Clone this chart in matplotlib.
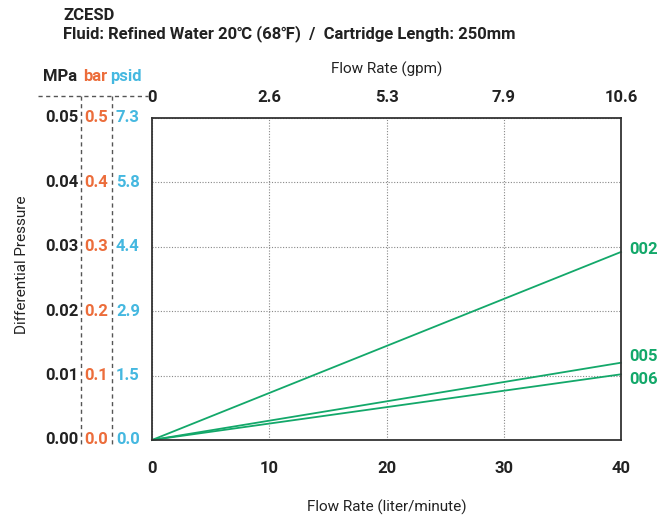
import matplotlib
matplotlib.use('Agg')
import matplotlib.pyplot as plt

plt.rcParams['font.family'] = ['Roboto', 'DejaVu Sans']

# flow (l/min) vs differential pressure (MPa)
flow = [0, 40]
dp_002 = [0.0, 0.0292]
dp_005 = [0.0, 0.0120]
dp_006 = [0.0, 0.0102]
series = [("002", dp_002, 0.0296), ("005", dp_005, 0.0130), ("006", dp_006, 0.0094)]

x_ticks = [0, 10, 20, 30, 40]
gpm_labels = ["0", "2.6", "5.3", "7.9", "10.6"]
mpa_ticks = [0.0, 0.01, 0.02, 0.03, 0.04, 0.05]
mpa_labels = ["0.00", "0.01", "0.02", "0.03", "0.04", "0.05"]
bar_labels = ["0.0", "0.1", "0.2", "0.3", "0.4", "0.5"]
psid_labels = ["0.0", "1.5", "2.9", "4.4", "5.8", "7.3"]

green = '#13a86a'
orange = '#ec6d3b'
blue = '#45b8e0'
dark = '#222222'
wt = 'bold'

fig = plt.figure(figsize=(6.72, 5.15), dpi=100)
ax = fig.add_axes([152/672, 1-440/515, 469/672, 322/515])

for name, vals, ylab in series:
    ax.plot(flow, vals, color=green, lw=1.3, clip_on=False)
    ax.text(40.7, ylab, name, color=green, fontsize=12, fontweight=wt, va='center', ha='left')

ax.set_xlim(0, 40)
ax.set_ylim(0, 0.05)
ax.set_xticks(x_ticks)
ax.set_xticklabels([str(t) for t in x_ticks], fontsize=12, fontweight=wt, color=dark)
ax.set_yticks(mpa_ticks)
ax.set_yticklabels([])
ax.tick_params(axis='x', length=0, pad=15)
ax.tick_params(axis='y', length=0)
ax.grid(True, color='#888888', ls=(0, (1, 1.5)), lw=0.8)
for s in ax.spines.values():
    s.set_color('#333333')
    s.set_linewidth(1.3)

ax.set_xlabel('Flow Rate (liter/minute)', fontsize=11, color=dark, labelpad=17)

# top gpm axis
for xt, lab in zip(x_ticks, gpm_labels):
    ax.text(xt, 1.065, lab, transform=ax.get_xaxis_transform(), ha='center', va='center',
            fontsize=12, fontweight=wt, color=dark)
ax.text(0.5, 1.15, 'Flow Rate (gpm)', transform=ax.transAxes, ha='center', va='center',
        fontsize=11, color=dark)

# left multi-unit pressure scale
yt = ax.get_yaxis_transform()
for y, m, b, p in zip(mpa_ticks, mpa_labels, bar_labels, psid_labels):
    ax.text(-0.157, y, m, transform=yt, ha='right', va='center', fontsize=12, fontweight=wt, color=dark)
    ax.text(-0.144, y, b, transform=yt, ha='left', va='center', fontsize=12, fontweight=wt, color=orange)
    ax.text(-0.077, y, p, transform=yt, ha='left', va='center', fontsize=12, fontweight=wt, color=blue)
ax.text(-0.196, 1.13, 'MPa', transform=ax.transAxes, ha='center', va='center', fontsize=12, fontweight=wt, color=dark)
ax.text(-0.121, 1.13, 'bar', transform=ax.transAxes, ha='center', va='center', fontsize=12, fontweight=wt, color=orange)
ax.text(-0.055, 1.13, 'psid', transform=ax.transAxes, ha='center', va='center', fontsize=12, fontweight=wt, color=blue)

dash = dict(color='#555555', lw=1.0, ls=(0, (3, 2.5)), clip_on=False, transform=ax.transAxes)
ax.plot([-0.243, -0.008], [1.068, 1.068], **dash)
ax.plot([-0.151, -0.151], [1.068, -0.02], **dash)
ax.plot([-0.085, -0.085], [1.068, -0.02], **dash)

fig.text(22/672, 1-265/515, 'Differential Pressure', rotation=90, ha='center', va='center',
         fontsize=11, color=dark)

fig.text(63/672, 1-16/515, 'ZCESD', fontsize=12, fontweight=wt, color=dark, va='center')
fig.text(63/672, 1-34/515, 'Fluid: Refined Water 20\u2103 (68\u2109)  /  Cartridge Length: 250mm',
         fontsize=12, fontweight=wt, color=dark, va='center')

fig.savefig('out.png', dpi=100)
